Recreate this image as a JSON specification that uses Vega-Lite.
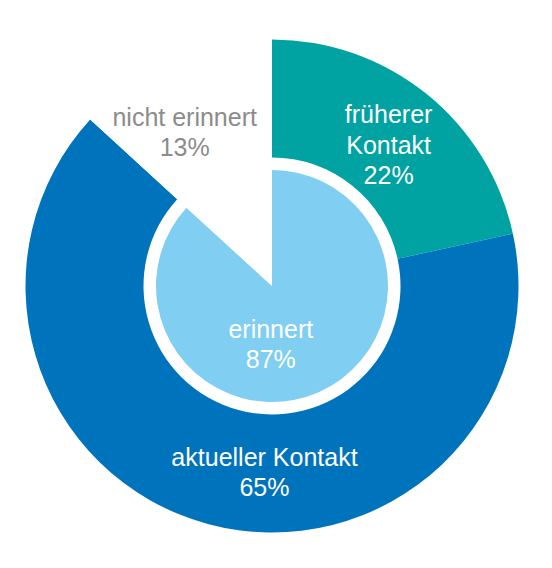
{
  "$schema": "https://vega.github.io/schema/vega-lite/v6.json",
  "width": 544,
  "height": 564,
  "padding": {"left": 0, "top": 4, "right": 8, "bottom": 0},
  "autosize": {"type": "none"},
  "background": "white",
  "view": {"stroke": null},
  "datasets": {
    "aussen": [
      {"kategorie": "früherer Kontakt", "wert": 21.6, "reihe": 1, "label": "früherer\nKontakt\n22%"},
      {"kategorie": "aktueller Kontakt", "wert": 65.2, "reihe": 2, "label": "aktueller Kontakt\n65%"},
      {"kategorie": "nicht erinnert", "wert": 13.2, "reihe": 3, "label": "nicht erinnert\n13%"}
    ],
    "innen": [
      {"kategorie": "erinnert", "wert": 86.8, "reihe": 1, "label": "erinnert\n87%"},
      {"kategorie": "nicht erinnert (innen)", "wert": 13.2, "reihe": 2, "label": ""}
    ]
  },
  "encoding": {
    "theta": {"field": "wert", "type": "quantitative", "stack": true},
    "order": {"field": "reihe", "type": "quantitative"}
  },
  "layer": [
    {
      "data": {"name": "aussen"},
      "mark": {"type": "arc", "radius": 246.5, "radius2": 128.5, "strokeWidth": 0},
      "encoding": {
        "color": {
          "field": "kategorie",
          "type": "nominal",
          "legend": null,
          "scale": {
            "domain": ["früherer Kontakt", "aktueller Kontakt", "nicht erinnert", "erinnert", "nicht erinnert (innen)"],
            "range": ["#00a3a1", "#0073bd", "#ffffff", "#80cef1", "#ffffff"]
          }
        }
      }
    },
    {
      "data": {"name": "innen"},
      "mark": {"type": "arc", "radius": 116, "radius2": 0, "strokeWidth": 0},
      "encoding": {
        "color": {"field": "kategorie", "type": "nominal", "legend": null}
      }
    },
    {
      "data": {"name": "aussen"},
      "mark": {"type": "text", "radius": 181, "dx": 3, "dy": -30, "font": "Liberation Sans", "fontSize": 25, "lineBreak": "\n", "lineHeight": 30.5, "color": "#ffffff", "align": "center", "baseline": "middle"},
      "encoding": {
        "text": {"condition": {"test": "datum.kategorie === 'früherer Kontakt'", "field": "label"}, "value": ""}
      }
    },
    {
      "data": {"name": "aussen"},
      "mark": {"type": "text", "radius": 186, "dx": 41, "dy": -8, "font": "Liberation Sans", "fontSize": 25, "lineBreak": "\n", "lineHeight": 30, "color": "#ffffff", "align": "center", "baseline": "middle"},
      "encoding": {
        "text": {"condition": {"test": "datum.kategorie === 'aktueller Kontakt'", "field": "label"}, "value": ""}
      }
    },
    {
      "data": {"name": "aussen"},
      "mark": {"type": "text", "radius": 177, "dx": -16, "dy": -6, "font": "Liberation Sans", "fontSize": 25, "lineBreak": "\n", "lineHeight": 30, "color": "#8c8c8c", "align": "center", "baseline": "middle"},
      "encoding": {
        "text": {"condition": {"test": "datum.kategorie === 'nicht erinnert'", "field": "label"}, "value": ""}
      }
    },
    {
      "data": {"name": "innen"},
      "mark": {"type": "text", "radius": 64, "dx": -27, "dy": -15, "font": "Liberation Sans", "fontSize": 25, "lineBreak": "\n", "lineHeight": 30, "color": "#ffffff", "align": "center", "baseline": "middle"},
      "encoding": {
        "text": {"condition": {"test": "datum.kategorie === 'erinnert'", "field": "label"}, "value": ""}
      }
    }
  ]
}
